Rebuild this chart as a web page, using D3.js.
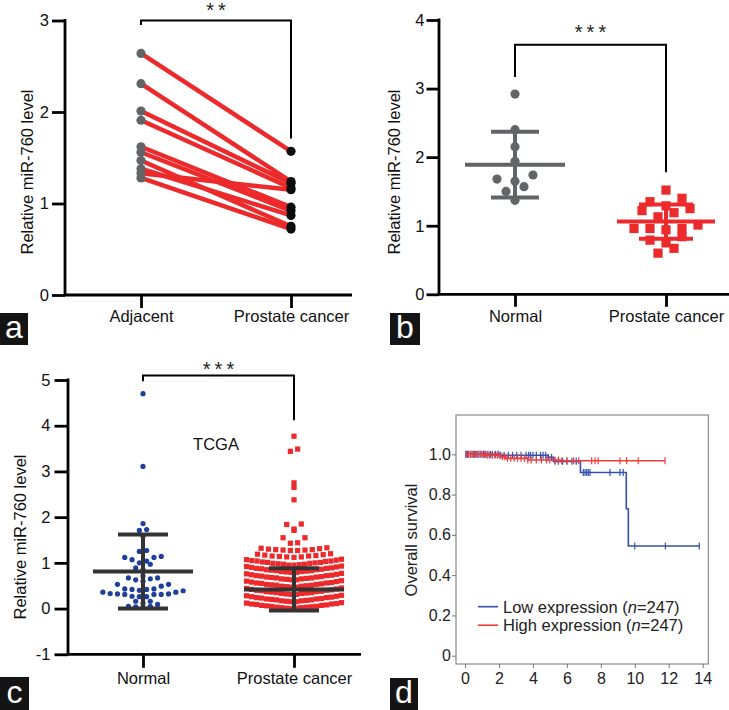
<!DOCTYPE html>
<html><head><meta charset="utf-8">
<script src="https://cdn.jsdelivr.net/npm/d3@7"></script>
<style>body{margin:0;background:#fff}svg{display:block}</style>
</head><body><svg id="fig" width="729" height="710"></svg>
<script>
// ---------------- DATA ----------------
// Panel a (paired)
const aCategories = ["Adjacent", "Prostate cancer"];
const aAdjacent = [2.64, 2.31, 2.01, 1.91, 1.62, 1.56, 1.47, 1.38, 1.33, 1.28];
const aCancer   = [1.57, 1.24, 1.22, 1.17, 0.96, 0.92, 0.75, 0.87, 1.15, 0.72];
const aTicks = [0, 1, 2, 3];
const aBracket = [2.95, 3.0, 1.71];   // left end, top, right end
const aStars = "**";

// Panel b
const bCategories = ["Normal", "Prostate cancer"];
const bNormal = [2.92, 2.40, 2.15, 1.94, 1.74, 1.68, 1.65, 1.57, 1.50, 1.37];
const bCancer = [1.52, 1.40, 1.35, 1.29, 1.25, 1.22, 1.19, 1.13, 1.01, 0.96, 0.96, 0.96, 0.94, 0.84, 0.79, 0.75, 0.67, 0.60];
const bMean = [1.89, 1.06];
const bSD = [0.48, 0.25];
const bTicks = [0, 1, 2, 3, 4];
const bBracket = [3.17, 3.64, 1.78];
const bStars = "***";

// Panel c (TCGA)
const cCategories = ["Normal", "Prostate cancer"];
const cNormal = [4.70, 3.11, 1.86, 1.73, 1.71, 1.58, 1.27, 1.25, 1.14, 1.12, 1.12, 1.07, 1.04, 1.00, 0.97,
  0.89, 0.85, 0.71, 0.67, 0.67, 0.65, 0.63, 0.60, 0.53, 0.53, 0.49, 0.43, 0.43, 0.42, 0.42, 0.40, 0.39,
  0.36, 0.36, 0.33, 0.32, 0.32, 0.31, 0.31, 0.31, 0.27, 0.26, 0.26, 0.16, 0.16, 0.12, 0.09, 0.05, 0.05, 0.04, 0.03];
const cCancer = [
  0.00, 0.01, 0.01, 0.02, 0.02, 0.03, 0.03, 0.04, 0.05, 0.05, 0.06, 0.07, 0.07, 0.08, 0.09, 0.10, 0.10, 0.11, 0.12, 0.13,
  0.15, 0.15, 0.16, 0.17, 0.17, 0.18, 0.19, 0.19, 0.20, 0.21, 0.21, 0.22, 0.23, 0.24, 0.24, 0.25, 0.26, 0.27, 0.28, 0.29,
  0.31, 0.31, 0.32, 0.33, 0.33, 0.34, 0.35, 0.35, 0.36, 0.37, 0.37, 0.38, 0.39, 0.40, 0.40, 0.41, 0.42, 0.43, 0.44, 0.45,
  0.47, 0.47, 0.48, 0.49, 0.49, 0.50, 0.51, 0.51, 0.52, 0.53, 0.53, 0.54, 0.55, 0.56, 0.56, 0.57, 0.58, 0.59, 0.60, 0.61,
  0.63, 0.63, 0.64, 0.65, 0.65, 0.66, 0.67, 0.67, 0.68, 0.69, 0.69, 0.70, 0.71, 0.72, 0.72, 0.73, 0.74, 0.75, 0.76, 0.77,
  0.79, 0.79, 0.80, 0.81, 0.81, 0.82, 0.83, 0.83, 0.84, 0.85, 0.85, 0.86, 0.87, 0.88, 0.88, 0.89, 0.90, 0.91, 0.92, 0.93,
  0.95, 0.95, 0.96, 0.97, 0.97, 0.98, 0.99, 0.99, 1.00, 1.01, 1.01, 1.02, 1.03, 1.04, 1.04, 1.05, 1.06, 1.07, 1.08,
  1.12, 1.13, 1.13, 1.14, 1.15, 1.15, 1.16, 1.17, 1.18, 1.19, 1.20,
  1.27, 1.27, 1.28, 1.28, 1.29, 1.29, 1.30, 1.31, 1.32, 1.33,
  1.43, 1.44, 1.55, 1.55, 1.71, 1.74, 1.84, 1.85, 2.38, 2.65, 2.75, 3.44, 3.49, 3.77];
const cMean = [0.81, 0.42];
const cSD = [0.81, 0.46];
const cTicks = [-1, 0, 1, 2, 3, 4, 5];
const cBracket = [4.97, 5.10, 4.12];
const cStars = "***";
const cNote = "TCGA";

// Panel d (Kaplan-Meier)
const dLowTimes = [0, 2.0, 4.9, 5.2, 6.8, 9.5, 9.62];
const dLowSurv  = [1.0, 0.995, 0.985, 0.965, 0.91, 0.73, 0.545];
const dLowEnd = 13.8;
const dLowCensor = [0.05, 0.15, 0.3, 0.42, 0.55, 0.7, 0.82, 0.95, 1.1, 1.22, 1.35, 1.5, 1.62, 1.8, 1.95, 2.1, 2.3,
  2.55, 2.8, 3.05, 3.3, 3.6, 3.75, 3.85, 4.0, 4.2, 4.45, 4.6, 4.75, 4.9, 5.1, 5.3, 5.5, 5.75, 6.0, 6.3, 6.55,
  6.97, 7.07, 7.17, 7.26, 7.36, 8.54, 9.13, 9.32, 10.0, 11.8, 13.8];
const dHighTimes = [0, 1.2, 2.1, 2.4, 3.7, 5.6];
const dHighSurv  = [1.0, 0.995, 0.988, 0.98, 0.972, 0.968];
const dHighEnd = 11.78;
const dHighCensor = [0.08, 0.2, 0.35, 0.5, 0.62, 0.75, 0.9, 1.05, 1.15, 1.3, 1.45, 1.6, 1.75, 1.9, 2.05, 2.2, 2.35,
  2.5, 2.7, 2.9, 3.1, 3.3, 3.5, 3.7, 3.9, 4.2, 4.5, 4.8, 5.0, 5.3, 5.5, 5.7, 6.0, 6.4, 6.7, 7.46, 7.66, 7.84,
  9.13, 9.52, 10.2, 11.78];
const dXTicks = [0, 2, 4, 6, 8, 10, 12, 14];
const dYTicks = [0, 0.2, 0.4, 0.6, 0.8, 1.0];
const dYTickLabels = ["0", "0.2", "0.4", "0.6", "0.8", "1.0"];
const dLegend = [{name: "Low expression", n: 247}, {name: "High expression", n: 247}];

// ---------------- DRAWING ----------------
const FONT = '"Liberation Sans", Arial, Helvetica, sans-serif';
const svg = d3.select("#fig");
svg.append("rect").attr("width", 729).attr("height", 710).attr("fill", "#fff");

const RED = "#ec2a2c", GRAY = "#636467", BLUE = "#1f3f9c";

function swarm(vals, y, cx, origin, bw, spacing, maxW) {
  const groups = d3.group(vals.map(v => ({v})), d => Math.floor((d.v - origin) / bw + 1e-9));
  const out = [];
  for (const [, arr] of groups) {
    arr.sort((a, b) => a.v - b.v);
    const n = arr.length;
    const sp = n > 1 ? Math.min(spacing, maxW / (n - 1)) : 0;
    arr.forEach((d, j) => {
      let slot;
      if (n % 2 === 1) slot = j === 0 ? 0 : (j % 2 === 1 ? -Math.ceil(j / 2) : j / 2);
      else { const m = Math.floor(j / 2) + 0.5; slot = j % 2 === 0 ? -m : m; }
      out.push({v: d.v, x: cx + slot * sp, y: y(d.v)});
    });
  }
  return out;
}

function prismAxes(g, x, y, ticks, axisX, axisRight, tickLen, xPad, yPad) {
  const yb = y.range()[0], yt = y.range()[1];
  g.append("g").attr("transform", `translate(${axisX},0)`)
    .call(d3.axisLeft(y).tickValues(ticks).tickSize(tickLen).tickPadding(yPad).tickFormat(d => String(d)))
    .call(s => s.select(".domain").remove())
    .call(s => s.selectAll("line").attr("stroke", "#000").attr("stroke-width", 2.8))
    .call(s => s.selectAll("text").attr("font-size", 16.5).attr("fill", "#111").attr("font-family", FONT));
  g.append("g").attr("transform", `translate(0,${yb})`)
    .call(d3.axisBottom(x).tickSize(tickLen).tickPadding(xPad))
    .call(s => s.select(".domain").remove())
    .call(s => s.selectAll("line").attr("stroke", "#000").attr("stroke-width", 2.8))
    .call(s => s.selectAll("text").attr("font-size", 16.5).attr("fill", "#111").attr("font-family", FONT));
  g.append("path").attr("d", `M${axisX},${yt - 1.4}V${yb}H${axisRight}`)
    .attr("fill", "none").attr("stroke", "#000").attr("stroke-width", 2.8);
}

function yTitle(g, text, x, y) {
  g.append("text").attr("transform", `translate(${x},${y}) rotate(-90)`)
    .attr("text-anchor", "middle").attr("font-family", FONT).attr("font-size", 16.5)
    .attr("fill", "#111").text(text);
}

function bracket(g, x, y, b, stars, starY) {
  const x1 = x(x.domain()[0]), x2 = x(x.domain()[1]);
  g.append("path").attr("d", `M${x1},${y(b[0])}V${y(b[1])}H${x2}V${y(b[2])}`)
    .attr("fill", "none").attr("stroke", "#000").attr("stroke-width", 2);
  g.append("text").attr("x", (x1 + x2) / 2 + 2).attr("y", starY).attr("text-anchor", "middle")
    .attr("font-family", FONT).attr("font-size", 20).attr("letter-spacing", 4).attr("fill", "#222").text(stars);
}

function errBars(g, cx, mean, sd, y, color, width, halfMean, halfCap) {
  const p = `M${cx - halfMean},${y(mean)}H${cx + halfMean}` +
    `M${cx - halfCap},${y(mean + sd)}H${cx + halfCap}` +
    `M${cx - halfCap},${y(mean - sd)}H${cx + halfCap}` +
    `M${cx},${y(mean + sd)}V${y(mean - sd)}`;
  g.append("path").attr("d", p).attr("fill", "none").attr("stroke", color).attr("stroke-width", width);
}

function panelLabel(letter, x0, y0, w, h) {
  svg.append("rect").attr("x", x0).attr("y", y0).attr("width", w).attr("height", h).attr("fill", "#141414");
  svg.append("text").attr("x", x0 + w / 2).attr("y", y0 + h - 7).attr("text-anchor", "middle")
    .attr("font-family", FONT).attr("font-size", 32).attr("fill", "#fff").text(letter);
}

// ----- Panel a -----
{
  const g = svg.append("g");
  const y = d3.scaleLinear().domain([0, 3]).range([295, 20.5]);
  const x = d3.scalePoint().domain(aCategories).range([141, 291]);
  prismAxes(g, x, y, aTicks, 65, 352, 13, 2, 3);
  yTitle(g, "Relative miR-760 level", 33, 172);
  bracket(g, x, y, aBracket, aStars, 17);
  const pairs = aAdjacent.map((v, i) => [v, aCancer[i]]);
  g.append("g").selectAll("line").data(pairs).join("line")
    .attr("x1", x(aCategories[0])).attr("x2", x(aCategories[1]))
    .attr("y1", d => y(d[0])).attr("y2", d => y(d[1]))
    .attr("stroke", RED).attr("stroke-width", 4.5);
  g.append("g").selectAll("circle").data(aAdjacent).join("circle")
    .attr("cx", x(aCategories[0])).attr("cy", d => y(d)).attr("r", 4.6).attr("fill", GRAY);
  g.append("g").selectAll("circle").data(aCancer).join("circle")
    .attr("cx", x(aCategories[1])).attr("cy", d => y(d)).attr("r", 4.6).attr("fill", "#0d0d0d");
}

// ----- Panel b -----
{
  const g = svg.append("g");
  const y = d3.scaleLinear().domain([0, 4]).range([294.3, 20]);
  const x = d3.scalePoint().domain(bCategories).range([515, 666]);
  prismAxes(g, x, y, bTicks, 439, 729, 12.5, 3, 2);
  yTitle(g, "Relative miR-760 level", 400, 172);
  bracket(g, x, y, bBracket, bStars, 39);
  const pn = swarm(bNormal, y, x(bCategories[0]), 1.30, 0.16, 18, 100);
  g.append("g").selectAll("circle").data(pn).join("circle")
    .attr("cx", d => d.x).attr("cy", d => d.y).attr("r", 4.6).attr("fill", GRAY);
  errBars(g, x(bCategories[0]), bMean[0], bSD[0], y, GRAY, 4, 50, 24);
  const pc = swarm(bCancer, y, x(bCategories[1]), 0.55, 0.18, 16, 100);
  g.append("g").selectAll("rect").data(pc).join("rect")
    .attr("x", d => d.x - 4.6).attr("y", d => d.y - 4.6).attr("width", 9.2).attr("height", 9.2).attr("fill", RED);
  errBars(g, x(bCategories[1]), bMean[1], bSD[1], y, RED, 4, 49, 27);
}

// ----- Panel c -----
{
  const g = svg.append("g");
  const y = d3.scaleLinear().domain([-1, 5]).range([654.3, 380]);
  const x = d3.scalePoint().domain(cCategories).range([143, 294]);
  prismAxes(g, x, y, cTicks, 68, 361, 13.5, 4, 4);
  yTitle(g, "Relative miR-760 level", 26, 537);
  bracket(g, x, y, cBracket, cStars, 376);
  g.append("text").attr("x", 216).attr("y", 450).attr("text-anchor", "middle")
    .attr("font-family", FONT).attr("font-size", 16.5).attr("fill", "#111").text(cNote);
  const pn = swarm(cNormal, y, x(cCategories[0]), -0.05, 0.15, 7.3, 100);
  g.append("g").selectAll("circle").data(pn).join("circle")
    .attr("cx", d => d.x).attr("cy", d => d.y).attr("r", 2.6).attr("fill", BLUE);
  const pc = swarm(cCancer, y, x(cCategories[1]), -0.02, 0.16, 7.3, 95);
  g.append("g").selectAll("rect").data(pc).join("rect")
    .attr("x", d => d.x - 2.6).attr("y", d => d.y - 2.6).attr("width", 5.2).attr("height", 5.2).attr("fill", RED);
  errBars(g, x(cCategories[0]), cMean[0], cSD[0], y, "#333", 4, 50, 25);
  errBars(g, x(cCategories[1]), cMean[1], cSD[1], y, "#333", 4, 50, 25);
}

// ----- Panel d -----
{
  const g = svg.append("g");
  const x = d3.scaleLinear().domain([0, 14]).range([465, 702.7]);
  const y = d3.scaleLinear().domain([0, 1]).range([655.7, 454.3]);
  const bx0 = 456, by0 = 415, bx1 = 708.3, by1 = 664;
  g.append("rect").attr("x", bx0).attr("y", by0).attr("width", bx1 - bx0).attr("height", by1 - by0)
    .attr("fill", "none").attr("stroke", "#8a8a8a").attr("stroke-width", 1.2);
  g.append("g").attr("transform", `translate(${bx0},0)`)
    .call(d3.axisLeft(y).tickValues(dYTicks).tickSize(4).tickPadding(1).tickFormat((d, i) => dYTickLabels[i]))
    .call(s => s.select(".domain").remove())
    .call(s => s.selectAll("line").attr("stroke", "#777"))
    .call(s => s.selectAll("text").attr("font-size", 16).attr("fill", "#222").attr("font-family", FONT));
  g.append("g").attr("transform", `translate(0,${by1})`)
    .call(d3.axisBottom(x).tickValues(dXTicks).tickSize(4).tickPadding(5).tickFormat(d => String(d)))
    .call(s => s.select(".domain").remove())
    .call(s => s.selectAll("line").attr("stroke", "#777"))
    .call(s => s.selectAll("text").attr("font-size", 16).attr("fill", "#222").attr("font-family", FONT));
  g.append("text").attr("transform", `translate(417,540) rotate(-90)`).attr("text-anchor", "middle")
    .attr("font-family", FONT).attr("font-size", 16.5).attr("fill", "#222").text("Overall survival");

  const line = d3.line().x(d => x(d[0])).y(d => y(d[1])).curve(d3.curveStepAfter);
  const curves = [
    {times: dLowTimes, surv: dLowSurv, end: dLowEnd, censor: dLowCensor, color: "#3452ad"},
    {times: dHighTimes, surv: dHighSurv, end: dHighEnd, censor: dHighCensor, color: "#f03c3c"}
  ];
  curves.forEach(c => {
    const pts = c.times.map((t, i) => [t, c.surv[i]]);
    pts.push([c.end, c.surv[c.surv.length - 1]]);
    g.append("path").attr("d", line(pts)).attr("fill", "none").attr("stroke", c.color).attr("stroke-width", 1.6);
    const S = t => c.surv[Math.max(0, d3.bisectRight(c.times, t) - 1)];
    g.append("g").selectAll("line").data(c.censor).join("line")
      .attr("x1", d => x(d)).attr("x2", d => x(d))
      .attr("y1", d => y(S(d)) - 3.5).attr("y2", d => y(S(d)) + 3.5)
      .attr("stroke", c.color).attr("stroke-width", 1.2);
  });
  const lg = g.append("g");
  dLegend.forEach((d, i) => {
    const ly = 606.7 + i * 18.5;
    lg.append("line").attr("x1", 478).attr("x2", 498).attr("y1", ly).attr("y2", ly)
      .attr("stroke", curves[i].color).attr("stroke-width", 1.6);
    const t = lg.append("text").attr("x", 503).attr("y", ly + 5.8).attr("font-family", FONT)
      .attr("font-size", 16.5).attr("fill", "#222");
    t.append("tspan").text(d.name + " (");
    t.append("tspan").attr("font-style", "italic").text("n");
    t.append("tspan").text("=" + d.n + ")");
  });
}

// panel labels
panelLabel("a", 0, 313, 28, 32);
panelLabel("b", 390, 313, 30, 32);
panelLabel("c", 0, 677, 29, 33);
panelLabel("d", 390, 678, 28, 32);
</script>
</body></html>
